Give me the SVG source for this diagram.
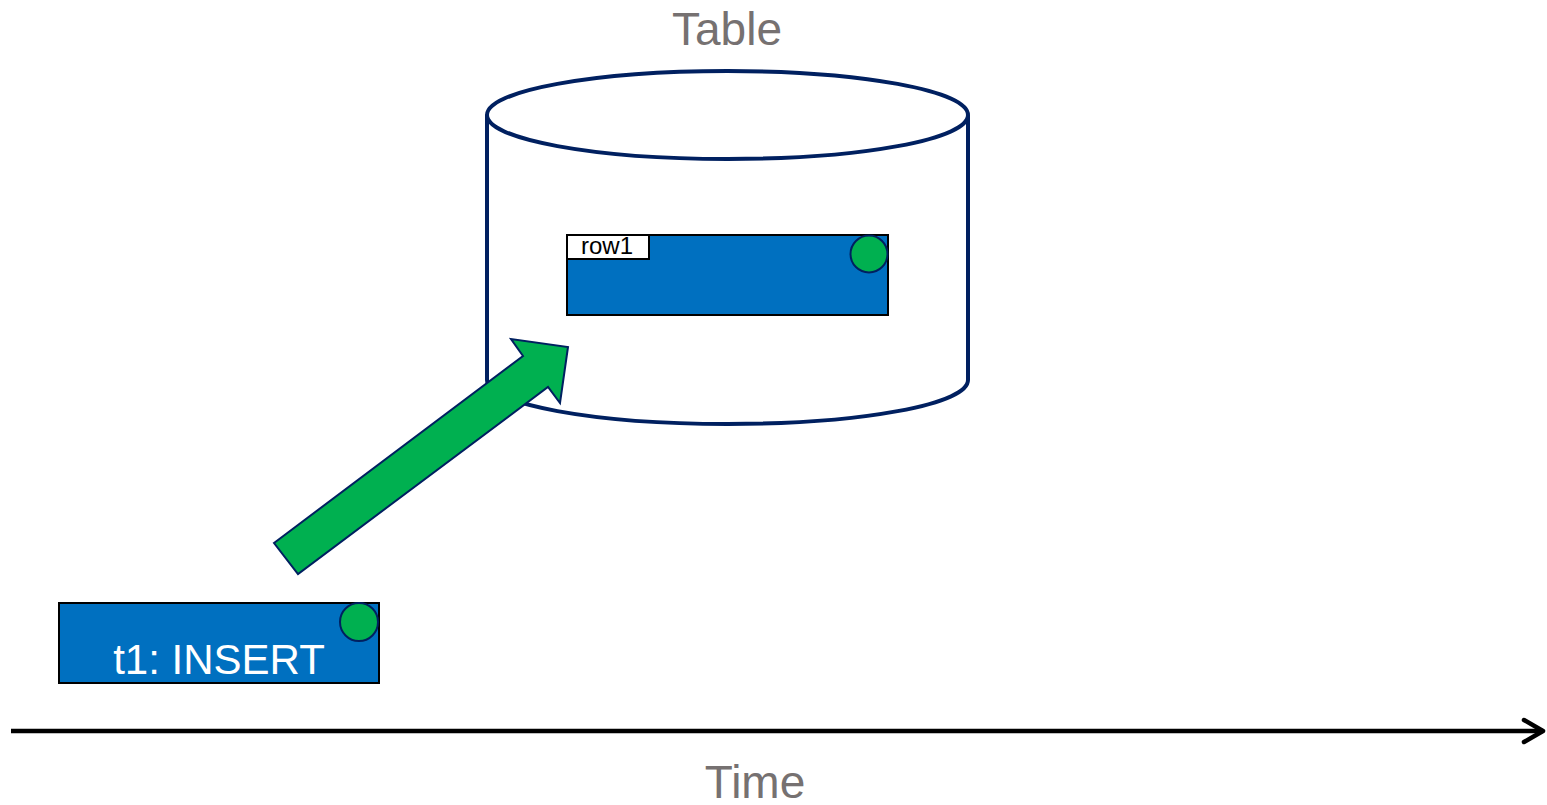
<svg xmlns="http://www.w3.org/2000/svg" width="1547" height="805" viewBox="0 0 1547 805">
<style>
.lbl{font-family:"Liberation Sans",Arial,sans-serif;fill:#767171;font-size:46px;text-anchor:middle}
.row{fill:#0070C0;stroke:#000;stroke-width:2}
.dot{fill:#00B050;stroke:#002060;stroke-width:2}
.cyl{fill:#fff;stroke:#002060;stroke-width:4}
</style>
<rect width="1547" height="805" fill="#fff"/>
<g id="table">
<path class="cyl" d="M487,115 L487,380 A240.5,44 0 0 0 968,380 L968,115"/>
<ellipse class="cyl" cx="727.5" cy="115" rx="240.5" ry="44"/>
<text class="lbl" x="727" y="45">Table</text>
</g>
<g id="row1">
<rect class="row" x="567" y="235" width="321" height="80"/>
<rect x="567" y="235" width="82" height="24" fill="#fff" stroke="#000" stroke-width="2"/>
<text x="607" y="254" font-family="Liberation Sans,Arial,sans-serif" font-size="24" fill="#000" text-anchor="middle">row1</text>
<circle class="dot" cx="869" cy="254" r="18.5"/>
</g>
<g id="t1">
<rect class="row" x="59" y="603" width="320" height="80"/>
<circle class="dot" cx="359" cy="622" r="19"/>
<text x="219" y="674" font-family="Liberation Sans,Arial,sans-serif" font-size="42" fill="#fff" text-anchor="middle">t1: INSERT</text>
</g>
<g id="connectors">
<polygon points="274,543 523,356 511,339 568,347 560,403 548,387 298,574" fill="#00B050" stroke="#002060" stroke-width="2"/>
<line x1="11" y1="731" x2="1543" y2="731" stroke="#000" stroke-width="4.5"/>
<polyline points="1524,720 1543,731 1524,742" fill="none" stroke="#000" stroke-width="4.5" stroke-linecap="round" stroke-linejoin="round"/>
</g>
<g id="time">
<text class="lbl" x="755" y="798">Time</text>
</g>
</svg>
